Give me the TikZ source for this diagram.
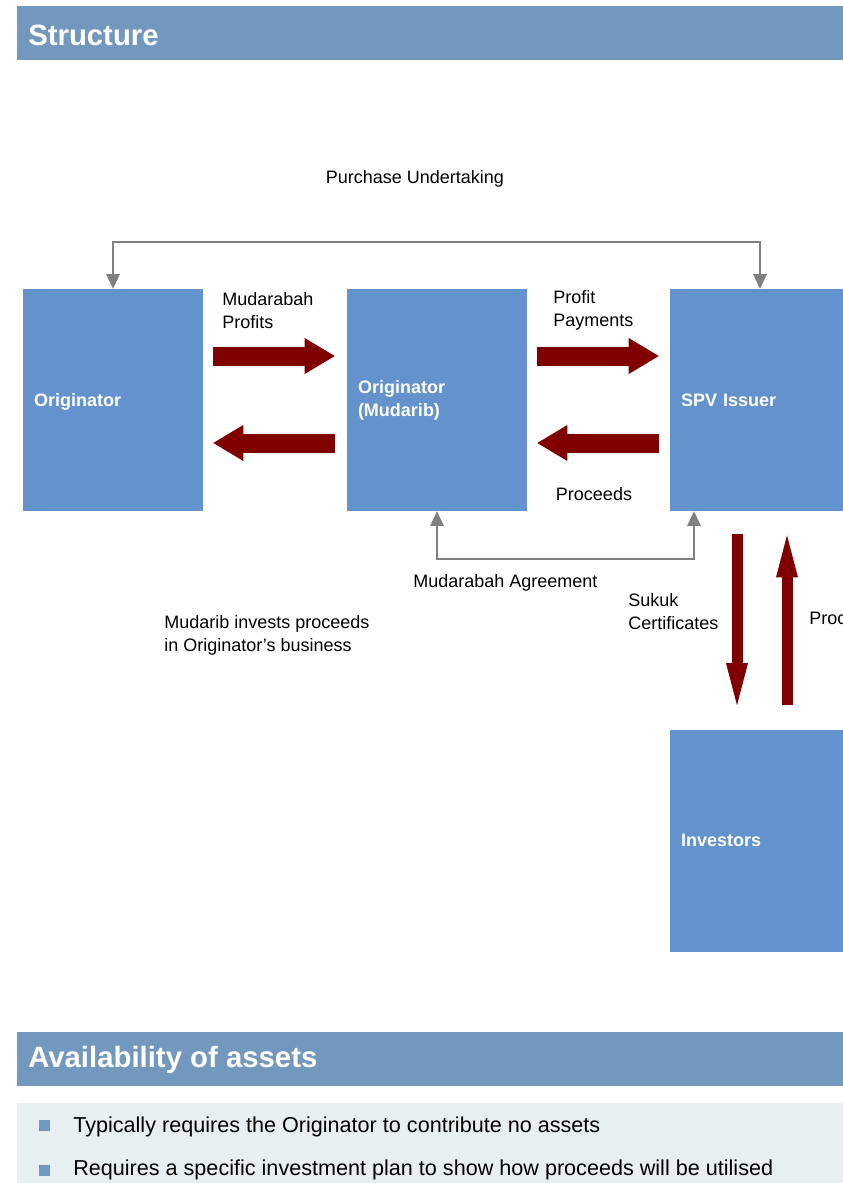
\documentclass[tikz,border=0pt]{standalone}
\usepackage{fontspec}
\setmainfont{Liberation Sans}
\usetikzlibrary{arrows.meta,calc}
\definecolor{boxblue}{RGB}{100,146,204}
\definecolor{barblue}{RGB}{115,152,189}
\definecolor{flowred}{RGB}{128,0,0}
\definecolor{linkgray}{RGB}{128,128,128}
\definecolor{panelgray}{RGB}{232,239,243}
\tikzset{
  box/.style={fill=boxblue, text=white, font=\bfseries\fontsize{13.5}{17.25}\selectfont,
    minimum height=166.5pt, text width=118.5pt, inner xsep=8.25pt, inner ysep=0pt, align=left},
  oneline/.style={text depth=0pt},
  lbl/.style={font=\fontsize{13.5}{17.25}\selectfont, inner sep=0pt, align=left},
  bartitle/.style={text=white, font=\bfseries\fontsize{22}{26}\selectfont, anchor=west, inner sep=0pt},
  point/.style={font=\fontsize{16.2}{19}\selectfont, anchor=base west, inner sep=0pt},
  dot/.style={fill=barblue, minimum size=8.25pt, inner sep=0pt},
  flowh/.style={draw=flowred, line width=14.25pt,
    -{Triangle[length=22.5pt,width=27pt,line width=0pt]}},
  flowv/.style={draw=flowred, line width=8.25pt,
    -{Triangle[length=31.5pt,width=16.5pt,line width=0pt]}},
  link/.style={draw=linkgray, line width=1.5pt,
    {Triangle[length=11pt,width=10.5pt,line width=0pt]}-{Triangle[length=11pt,width=10.5pt,line width=0pt]}}
}
\begin{document}
\begin{tikzpicture}[x=0.75pt,y=0.75pt,yscale=-1,xscale=1]
\useasboundingbox (0,0) rectangle (843,1183);
\clip (0,0) rectangle (843,1183);
% Title bars
\fill[barblue] (17,6) rectangle (843,60);
\node[bartitle] (st) at (28,35) {Structure};
\fill[barblue] (17,1032) rectangle (843,1086);
\node[bartitle] (aa) at (28,1060) {Availability of assets};
% Boxes
\node[box, oneline] (orig) at (113,400) {Originator};
\node[box] (mud) at (437,400) {Originator\\(Mudarib)};
\node[box, oneline] (spv) at (760,400) {SPV Issuer};
\node[box, oneline] (inv) at (760,840.5) {Investors};
% Gray links
\draw[link] (orig.north) -- ++(0,-47) -| (spv.north);
\draw[link] (mud.south) -- ++(0,48) -| ($(spv.south)+(-66,0)$);
% Red flows
\draw[flowh] ($(orig.east)+(10,-44)$) -- ($(mud.west)+(-12,-44)$);
\draw[flowh] ($(mud.west)+(-12,43)$) -- ($(orig.east)+(10,43)$);
\draw[flowh] ($(mud.east)+(10,-44)$) -- ($(spv.west)+(-11,-44)$);
\draw[flowh] ($(spv.west)+(-11,43)$) -- ($(mud.east)+(10,43)$);
\draw[flowv] ($(spv.south)+(-23,23)$) -- ($(inv.north)+(-23,-24)$);
\draw[flowv] ($(inv.north)+(27,-24)$) -- ($(spv.south)+(27,24)$);
% Text Nodes
\node[lbl] (pu) at (415,179) {Purchase Undertaking};
\node[lbl, anchor=west] (mp) at (222,310.5) {Mudarabah\\Profits};
\node[lbl, anchor=west] (pp) at (553,310.5) {Profit\\Payments};
\node[lbl] (pr) at (594,494) {Proceeds};
\node[lbl, anchor=west] (ma) at (413,583) {Mudarabah Agreement};
\node[lbl, anchor=west] (sc) at (628,611.5) {Sukuk\\Certificates};
\node[lbl, anchor=west] (pi) at (809,618) {Proceeds};
\node[lbl, anchor=west] (mi) at (164,635.5) {Mudarib invests proceeds\\in Originator’s business};
% Bullet panel
\fill[panelgray] (17,1103) rectangle (843,1183);
\node[dot] (b1) at (44.5,1125) {};
\node[point] (t1) at (73,1132) {Typically requires the Originator to contribute no assets};
\node[dot] (b2) at (44.5,1170) {};
\node[point] (t2) at (73,1175.5) {Requires a specific investment plan to show how proceeds will be utilised};
\end{tikzpicture}
\end{document}
